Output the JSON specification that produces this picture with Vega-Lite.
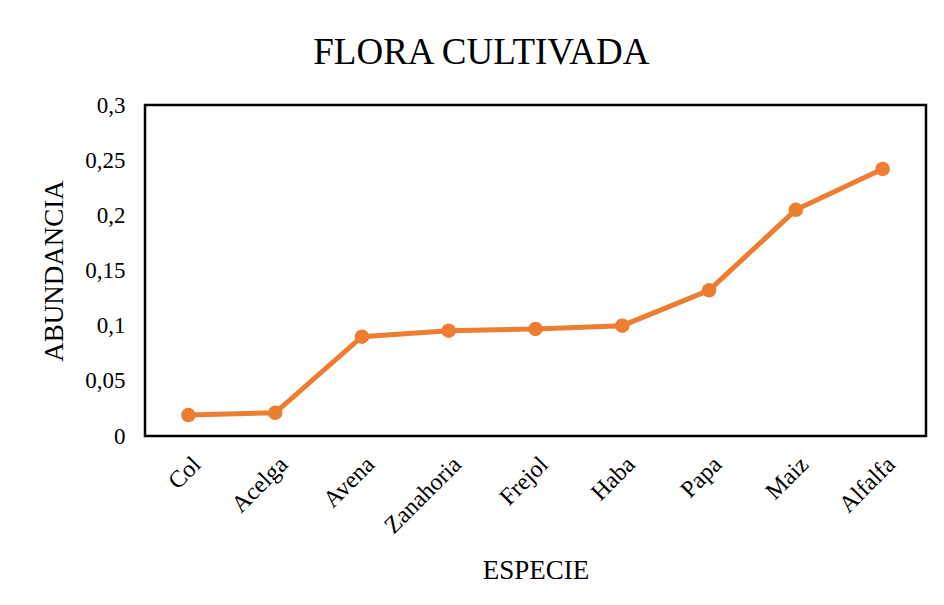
{
  "$schema": "https://vega.github.io/schema/vega-lite/v6.json",
  "autosize": "none",
  "width": 781,
  "height": 331,
  "padding": {"left": 145, "top": 105, "right": 18, "bottom": 169},
  "background": "white",
  "title": {
    "text": "FLORA CULTIVADA",
    "font": "Liberation Serif",
    "fontSize": 37,
    "fontWeight": "normal",
    "color": "black",
    "anchor": "middle",
    "frame": "bounds",
    "dx": -2,
    "offset": 22
  },
  "data": {
    "values": [
      {"especie": "Col", "abundancia": 0.019},
      {"especie": "Acelga", "abundancia": 0.021},
      {"especie": "Avena", "abundancia": 0.090},
      {"especie": "Zanahoria", "abundancia": 0.0955},
      {"especie": "Frejol", "abundancia": 0.097},
      {"especie": "Haba", "abundancia": 0.100},
      {"especie": "Papa", "abundancia": 0.132},
      {"especie": "Maiz", "abundancia": 0.205},
      {"especie": "Alfalfa", "abundancia": 0.242}
    ]
  },
  "mark": {"type": "line", "color": "#ED7D31", "strokeWidth": 5, "point": {"filled": true, "size": 210, "color": "#ED7D31", "opacity": 1}},
  "encoding": {
    "x": {
      "field": "especie",
      "type": "nominal",
      "sort": null,
      "scale": {"type": "point", "padding": 0.5},
      "axis": {
        "title": "ESPECIE",
        "labelAngle": -45,
        "labelFont": "Liberation Serif",
        "labelFontSize": 24,
        "labelColor": "black",
        "labelPadding": 16,
        "ticks": false,
        "domain": false,
        "titleFont": "Liberation Serif",
        "titleFontSize": 27,
        "titleFontWeight": "normal",
        "titleColor": "black",
        "titlePadding": 20
      }
    },
    "y": {
      "field": "abundancia",
      "type": "quantitative",
      "scale": {"domain": [0, 0.3], "nice": false},
      "axis": {
        "title": "ABUNDANCIA",
        "values": [0, 0.05, 0.1, 0.15, 0.2, 0.25, 0.3],
        "labelExpr": "replace(format(datum.value, '~g'), '.', ',')",
        "labelFont": "Liberation Serif",
        "labelFontSize": 23,
        "labelColor": "black",
        "labelPadding": 20,
        "ticks": false,
        "domain": false,
        "grid": false,
        "titleFont": "Liberation Serif",
        "titleFontSize": 27,
        "titleFontWeight": "normal",
        "titleColor": "black",
        "titlePadding": 16
      }
    }
  },
  "config": {
    "view": {"stroke": "black", "strokeWidth": 2.5}
  }
}
